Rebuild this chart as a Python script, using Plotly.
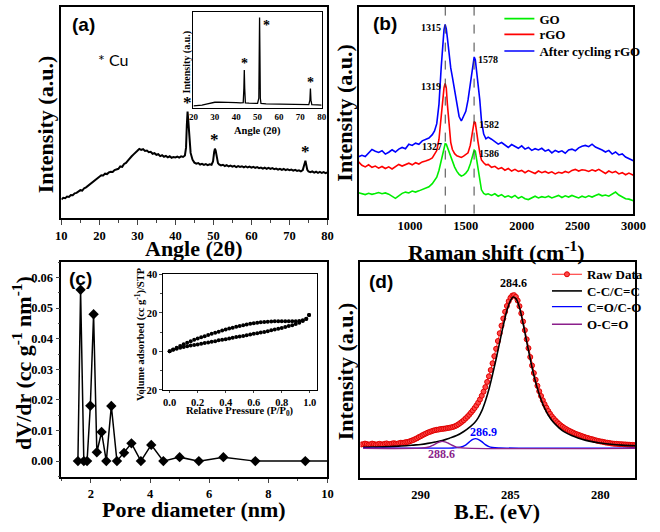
import numpy as np
import plotly.graph_objects as go

W, H = 660, 532
SERIF = "Liberation Serif"
SANS = "Liberation Sans"

# ---------------- (a) XRD ----------------
xrd_angle = [10.0, 10.5, 11.0, 11.5, 12.0, 12.5, 13.0, 13.5, 14.0, 14.5, 15.0, 15.5, 16.0, 16.5, 17.0, 17.5,
             18.0, 18.5, 19.0, 19.5, 20.0, 20.5, 21.0, 21.5, 22.0, 22.5, 23.0, 23.5, 24.0, 24.5, 25.0, 25.5,
             26.0, 26.5, 27.0, 27.5, 28.0, 28.5, 29.0, 29.5, 30.0, 30.5, 31.0, 31.5, 32.0, 32.5, 33.0, 33.5,
             34.0, 34.5, 35.0, 35.5, 36.0, 36.5, 37.0, 37.5, 38.0, 38.5, 39.0, 39.5, 40.0, 40.5, 41.0, 41.5,
             42.0, 42.5, 42.8, 43.0, 43.2, 43.4, 43.6, 43.8, 44.0, 44.5, 45.0, 45.5, 46.0, 46.5, 47.0, 47.5,
             48.0, 48.5, 49.0, 49.5, 49.9, 50.2, 50.4, 50.6, 50.9, 51.2, 51.5, 52.0, 52.5, 53.0, 53.5, 54.0,
             54.5, 55.0, 55.5, 56.0, 56.5, 57.0, 57.5, 58.0, 58.5, 59.0, 59.5, 60.0, 60.5, 61.0, 61.5, 62.0,
             62.5, 63.0, 63.5, 64.0, 64.5, 65.0, 65.5, 66.0, 66.5, 67.0, 67.5, 68.0, 68.5, 69.0, 69.5, 70.0,
             70.5, 71.0, 71.5, 72.0, 72.5, 73.0, 73.5, 73.8, 74.0, 74.2, 74.4, 74.7, 75.0, 75.5, 76.0, 76.5,
             77.0, 77.5, 78.0, 78.5, 79.0, 79.5, 80.0]
xrd_intensity = [9.0, 9.8, 9.6, 10.4, 10.2, 11.1, 11.0, 11.9, 12.1, 12.6, 13.4, 13.2, 14.3, 14.7, 15.4, 16.3,
                 16.9, 17.8, 18.4, 19.3, 19.6, 20.4, 20.3, 21.2, 21.0, 21.8, 22.1, 22.0, 22.9, 23.1, 23.5, 24.6,
                 24.4, 25.8, 26.3, 27.4, 28.2, 29.4, 30.3, 31.4, 32.0, 32.9, 32.4, 32.8, 31.9, 32.1, 31.3, 31.5,
                 30.6, 30.9, 30.1, 30.4, 29.5, 29.9, 29.2, 29.6, 28.9, 29.4, 28.7, 29.1, 28.9, 29.3, 28.8, 29.4,
                 29.1, 29.8, 33.5, 44.0, 50.5, 46.0, 39.0, 34.0, 31.0, 27.8, 26.4, 25.9, 26.2, 25.5, 25.8, 25.3,
                 25.7, 25.2, 25.6, 25.4, 27.0, 31.5, 33.0, 32.0, 28.5, 26.2, 25.6, 25.1, 25.4, 24.8, 25.2, 24.6,
                 25.0, 24.5, 24.9, 24.3, 24.8, 24.4, 24.7, 24.2, 24.6, 24.1, 24.5, 24.0, 24.4, 23.9, 24.3, 23.8,
                 24.1, 23.6, 24.0, 23.5, 23.9, 23.4, 23.8, 23.3, 23.6, 23.1, 23.5, 23.0, 23.4, 22.9, 23.2, 22.8,
                 23.1, 22.6, 23.0, 22.5, 22.8, 22.3, 22.9, 24.5, 26.5, 27.3, 25.5, 23.0, 22.2, 21.9, 22.3, 21.7,
                 22.1, 21.6, 22.0, 21.5, 21.9, 21.4, 21.8]
xrd_cu_angle = [20, 22, 24, 26, 28, 30, 32, 34, 36, 38, 40, 42, 43.3, 43.6, 43.8, 44.0, 44.3, 46, 48, 50,
                50.6, 50.8, 50.95, 51.1, 51.3, 51.6, 54, 58, 62, 66, 70, 74, 74.5, 74.75, 75.0, 75.4, 78, 80]
xrd_cu_intensity = [2.0, 2.3, 2.8, 3.8, 5.0, 5.8, 6.0, 6.0, 5.8, 5.6, 5.4, 5.2, 5.5, 20, 39.5, 20, 5.2, 4.8, 4.6, 4.6,
                    10, 60, 94, 60, 10, 4.6, 4.2, 4.0, 3.8, 3.6, 3.4, 3.3, 8, 20, 8, 3.3, 3.0, 2.8]
cu_peaks_main = [43.2, 50.4, 74.2]
cu_peaks_inset = [43.8, 50.95, 74.75]

# ---------------- (b) Raman ----------------
raman_shift = [540, 570, 600, 630, 660, 690, 720, 750, 780, 810, 840, 870, 900, 930, 960, 990, 1020, 1050, 1080, 1110,
               1140, 1170, 1200, 1220, 1240, 1260, 1280, 1295, 1305, 1315, 1325, 1335, 1350, 1365, 1380, 1400, 1420, 1440, 1460, 1480,
               1500, 1520, 1540, 1555, 1565, 1575, 1585, 1595, 1610, 1625, 1640, 1660, 1680, 1700, 1730, 1760, 1790, 1820, 1850, 1880,
               1910, 1940, 1970, 2000, 2030, 2060, 2090, 2120, 2150, 2180, 2210, 2240, 2270, 2300, 2330, 2360, 2390, 2420, 2450, 2480,
               2510, 2540, 2570, 2600, 2630, 2660, 2690, 2720, 2750, 2780, 2810, 2840, 2870, 2900, 2930, 2960, 3000]
raman_go = [10.1, 9.6, 9.2, 9.8, 9.3, 9.7, 10.2, 9.6, 10.0, 9.4, 8.6, 7.4, 8.6, 9.8, 10.4, 10.0, 10.9, 10.4, 11.0, 11.6,
            12.3, 13.0, 14.5, 15.8, 17.6, 21.0, 26.0, 30.0, 32.5, 33.8, 33.6, 32.0, 29.5, 27.5, 25.0, 22.5, 20.4, 19.0, 18.2, 18.6,
            19.6, 21.0, 24.0, 27.5, 29.5, 30.7, 30.2, 27.0, 22.5, 16.0, 11.5, 9.8, 9.2, 9.6, 8.8, 9.6, 8.4, 9.2, 8.0, 8.6,
            7.8, 8.8, 7.4, 8.2, 7.2, 6.8, 7.8, 8.4, 7.6, 8.2, 7.8, 8.4, 7.6, 8.2, 8.8, 7.8, 8.6, 8.0, 8.8, 8.2,
            7.6, 8.4, 7.8, 8.6, 8.0, 8.8, 9.4, 8.6, 9.0, 8.4, 9.4, 10.4, 9.0, 8.2, 7.2, 7.0, 6.2]
raman_rgo = [25.0, 23.4, 22.6, 23.6, 22.4, 23.0, 22.0, 22.8, 21.8, 22.6, 21.6, 22.8, 23.8, 23.0, 23.6, 24.4, 23.6, 24.6, 24.0, 25.0,
             25.4, 26.0, 27.0, 28.5, 30.5, 36.0, 47.0, 56.0, 61.0, 63.0, 61.0, 53.0, 42.0, 34.5, 31.0, 29.0, 28.0, 27.6, 27.2, 27.8,
             28.6, 29.4, 33.0, 37.5, 41.5, 44.5, 44.0, 39.5, 34.5, 29.5, 26.0, 24.6, 23.6, 23.8, 22.4, 22.9, 21.6, 22.2, 21.0, 21.8,
             20.6, 21.4, 20.4, 20.9, 19.8, 20.8, 20.2, 19.4, 20.6, 19.8, 20.4, 19.6, 20.2, 19.2, 20.0, 19.6, 20.4, 19.8, 20.9, 21.4,
             20.6, 21.2, 21.0, 20.4, 21.2, 20.6, 21.4, 20.2, 19.4, 20.6, 19.8, 20.4, 19.2, 19.8, 18.8, 19.6, 18.6]
raman_cycled = [27.5, 28.2, 27.6, 29.4, 31.0, 30.2, 29.6, 30.4, 28.8, 29.7, 30.9, 29.8, 31.2, 32.0, 31.4, 33.6, 33.0, 34.1, 33.5, 35.2,
                35.9, 36.6, 38.2, 40.0, 43.5, 53.0, 71.0, 83.5, 89.0, 91.5, 89.5, 85.0, 77.0, 70.5, 66.0, 60.0, 53.0, 47.0, 44.8, 47.5,
                49.5, 55.0, 63.0, 70.5, 74.0, 75.8, 74.5, 70.0, 64.0, 55.0, 45.0, 38.5, 36.2, 37.0, 36.0, 35.0, 33.6, 34.4, 33.2, 32.0,
                33.4, 32.4, 31.6, 32.8, 31.2, 32.0, 30.6, 31.4, 30.8, 31.6, 30.2, 30.9, 29.4, 30.6, 29.8, 30.4, 29.2, 30.8, 31.2, 30.4,
                31.8, 32.6, 33.0, 32.4, 33.6, 32.2, 31.6, 30.8, 29.8, 30.6, 28.8, 29.8, 28.4, 28.9, 27.4, 26.6, 25.6]
raman_guides = [1316, 1574]
raman_names = ["GO", "rGO", "After cycling rGO"]
raman_colors = ["#00EE00", "#FF0000", "#0000FF"]
raman_peak_labels = [["1327", "1586"], ["1319", "1582"], ["1315", "1578"]]
raman_peak_pos = [[1320, 1578], [1315, 1578], [1315, 1575]]

# ---------------- (c) pore size distribution ----------------
pore_diameter = [1.56, 1.65, 1.76, 1.87, 1.98, 2.09, 2.20, 2.36, 2.52, 2.69, 2.88, 3.12, 3.37, 3.69, 4.04, 4.45,
                 5.00, 5.65, 6.48, 7.56, 9.25, 10.5]
dv_dr = [0, 0.056, 0, 0, 0.0181, 0.048, 0.0029, 0.0095, 0, 0.018, 0, 0.0027, 0.0058, 0, 0.0053, 0,
         0.0013, 0, 0.0013, 0, 0, 0]
iso_p = [0.0, 0.025, 0.05, 0.075, 0.1, 0.125, 0.15, 0.175, 0.2, 0.225, 0.25, 0.275, 0.3, 0.325, 0.35, 0.375,
         0.4, 0.425, 0.45, 0.475, 0.5, 0.525, 0.55, 0.575, 0.6, 0.625, 0.65, 0.675, 0.7, 0.725, 0.75, 0.775,
         0.8, 0.825, 0.85, 0.875, 0.9, 0.925, 0.95, 0.975, 0.995]
iso_ads = [0.0, 0.8, 1.4, 1.9, 2.3, 2.6, 3.0, 3.3, 3.6, 4.0, 4.3, 4.6, 5.0, 5.3, 5.7, 6.0,
           6.3, 6.7, 7.0, 7.4, 7.7, 8.0, 8.4, 8.7, 9.1, 9.4, 9.8, 10.1, 10.5, 10.9, 11.3, 11.7,
           12.1, 12.6, 13.1, 13.6, 14.2, 14.9, 15.7, 16.8, 18.9]
iso_des = [0.0, 1.0, 1.9, 2.8, 3.7, 4.5, 5.3, 6.0, 6.7, 7.3, 7.9, 8.5, 9.1, 9.7, 10.2, 10.8,
           11.3, 11.8, 12.3, 12.8, 13.2, 13.6, 14.0, 14.3, 14.6, 14.9, 15.1, 15.3, 15.4, 15.5, 15.6, 15.6,
           15.6, 15.6, 15.6, 15.6, 15.6, 15.7, 16.1, 16.9, 18.9]

# ---------------- (d) XPS C1s ----------------
xps_be = [293.3, 293.2, 293.1, 293.0, 292.9, 292.8, 292.7, 292.6, 292.5, 292.4, 292.3, 292.2, 292.1, 292.0,
          291.9, 291.8, 291.7, 291.6, 291.5, 291.4, 291.3, 291.2, 291.1, 291.0, 290.9, 290.8, 290.7, 290.6,
          290.5, 290.4, 290.3, 290.2, 290.1, 290.0, 289.9, 289.8, 289.7, 289.6, 289.5, 289.4, 289.3, 289.2,
          289.1, 289.0, 288.9, 288.8, 288.7, 288.6, 288.5, 288.4, 288.3, 288.2, 288.1, 288.0, 287.9, 287.8,
          287.7, 287.6, 287.5, 287.4, 287.3, 287.2, 287.1, 287.0, 286.9, 286.8, 286.7, 286.6, 286.5, 286.4,
          286.3, 286.2, 286.1, 286.0, 285.9, 285.8, 285.7, 285.6, 285.5, 285.4, 285.3, 285.2, 285.1, 285.0,
          284.9, 284.8, 284.7, 284.6, 284.5, 284.4, 284.3, 284.2, 284.1, 284.0, 283.9, 283.8, 283.7, 283.6,
          283.5, 283.4, 283.3, 283.2, 283.1, 283.0, 282.9, 282.8, 282.7, 282.6, 282.5, 282.4, 282.3, 282.2,
          282.1, 282.0, 281.9, 281.8, 281.7, 281.6, 281.5, 281.4, 281.3, 281.2, 281.1, 281.0, 280.9, 280.8,
          280.7, 280.6, 280.5, 280.4, 280.3, 280.2, 280.1, 280.0, 279.9, 279.8, 279.7, 279.6, 279.5, 279.4,
          279.3, 279.2, 279.1, 279.0, 278.9, 278.8, 278.7, 278.6, 278.5, 278.4, 278.3, 278.2, 278.1, 278.0]
xps_raw = [15.5, 15.6, 15.9, 15.7, 15.4, 15.6, 15.9, 15.7, 15.4, 15.6, 15.8, 15.6, 15.5, 15.8,
           16.0, 15.7, 15.6, 15.9, 16.1, 15.9, 15.8, 16.1, 16.3, 16.2, 16.4, 16.6, 16.7, 17.0,
           17.3, 17.6, 18.0, 18.4, 18.9, 19.3, 19.8, 20.2, 20.6, 21.0, 21.3, 21.6, 21.9, 22.1,
           22.3, 22.4, 22.6, 22.7, 22.8, 22.9, 23.1, 23.2, 23.4, 23.6, 23.9, 24.3, 24.8, 25.4,
           26.0, 26.7, 27.5, 28.3, 29.2, 30.2, 31.2, 32.3, 33.5, 34.8, 36.3, 38.0, 39.9, 42.0,
           44.4, 47.0, 49.9, 53.0, 56.3, 59.7, 63.3, 66.9, 70.4, 73.7, 76.8, 79.5, 81.7, 83.3,
           84.3, 84.5, 83.7, 82.0, 79.4, 76.1, 72.3, 68.3, 64.1, 60.0, 55.9, 52.0, 48.5, 45.4,
           42.6, 40.1, 37.9, 35.9, 34.1, 32.5, 31.0, 29.7, 28.5, 27.5, 26.6, 25.8, 25.0, 24.3,
           23.7, 23.1, 22.6, 22.1, 21.7, 21.3, 20.9, 20.5, 20.2, 19.9, 19.6, 19.3, 19.0, 18.7,
           18.5, 18.2, 18.0, 17.8, 17.5, 17.3, 17.1, 16.9, 16.8, 16.6, 16.4, 16.3, 16.2, 16.0,
           15.9, 15.8, 15.8, 15.7, 15.6, 15.6, 15.5, 15.5, 15.4, 15.4, 15.3, 15.3, 15.2, 15.2]
fit_cc_be = [293.2, 292.6, 292.0, 291.4, 290.8, 290.4, 290.0, 289.6, 289.2, 288.8, 288.4, 288.0, 287.6, 287.2, 287.0,
             286.8, 286.6, 286.4, 286.2, 286.0, 285.8, 285.6, 285.4, 285.2, 285.0, 284.85, 284.7, 284.5, 284.3, 284.1,
             283.9, 283.7, 283.5, 283.3, 283.1, 282.9, 282.6, 282.3, 282.0, 281.6, 281.2, 280.8, 280.4, 280.0, 279.4,
             278.8, 278.0]
fit_cc = [14.2, 14.3, 14.4, 14.6, 14.9, 15.2, 15.5, 16.0, 16.6, 17.3, 18.4, 19.6, 21.5, 24.0, 25.5,
          27.8, 31.0, 35.5, 41.0, 47.8, 55.0, 62.8, 70.5, 77.4, 82.0, 83.6, 82.9, 78.8, 71.5, 63.0,
          55.0, 47.5, 41.3, 36.3, 32.3, 29.1, 25.6, 23.2, 21.3, 19.6, 18.4, 17.4, 16.7, 16.2, 15.6,
          15.2, 14.9]
fit_co_be = [293.2, 289.0, 288.2, 287.8, 287.5, 287.3, 287.1, 286.95, 286.8, 286.6, 286.4, 286.2, 286.0, 285.6, 284.0, 278.0]
fit_co = [13.8, 13.8, 13.9, 14.2, 15.2, 16.6, 17.8, 18.2, 17.9, 16.8, 15.4, 14.5, 14.1, 13.9, 13.8, 13.8]
fit_occ_be = [293.2, 290.0, 289.6, 289.3, 289.05, 288.85, 288.6, 288.4, 288.15, 287.9, 287.5, 278.0]
fit_occ = [13.7, 13.8, 14.2, 15.2, 16.3, 16.9, 16.6, 15.8, 14.8, 14.1, 13.8, 13.7]
xps_names = ["Raw Data", "C-C/C=C", "C=O/C-O", "O-C=O"]
xps_label_text = ["284.6", "286.9", "288.6"]
xps_label_pos = [284.85, 286.95, 288.85]
PURPLE = "#8B1F8B"


def dx(p0, p1):
    return [p0 / W, p1 / W]


def dy(top, bottom):
    return [1 - bottom / H, 1 - top / H]


def px(x):
    return x / W


def py(y):
    return 1 - y / H


fig = go.Figure()

# (a)
fig.add_trace(go.Scatter(x=xrd_angle, y=xrd_intensity, mode="lines", line=dict(color="black", width=2),
                         xaxis="x", yaxis="y", showlegend=False))
fig.add_trace(go.Scatter(x=xrd_cu_angle, y=xrd_cu_intensity, mode="lines", line=dict(color="black", width=1.3),
                         xaxis="x2", yaxis="y2", showlegend=False))
# (b) -- each entry gets its own legend box so the row spacing matches
b_legends = ["legend", "legend2", "legend3"]
for name, col, ys, lg in zip(raman_names, raman_colors, [raman_go, raman_rgo, raman_cycled], b_legends):
    fig.add_trace(go.Scatter(x=raman_shift, y=ys, mode="lines", name=name, line=dict(color=col, width=1.6),
                             xaxis="x3", yaxis="y3", legend=lg))
# (c)
fig.add_trace(go.Scatter(x=pore_diameter, y=dv_dr, mode="lines+markers", line=dict(color="black", width=1.5),
                         marker=dict(symbol="diamond", size=8, color="black"), xaxis="x4", yaxis="y4", showlegend=False))
fig.add_trace(go.Scatter(x=iso_p, y=iso_ads, mode="markers", marker=dict(size=4, color="black"),
                         xaxis="x5", yaxis="y5", showlegend=False))
fig.add_trace(go.Scatter(x=iso_p, y=iso_des, mode="markers", marker=dict(size=4, color="black"),
                         xaxis="x5", yaxis="y5", showlegend=False))
# (d)
d_legends = ["legend4", "legend5", "legend6", "legend7"]
fig.add_trace(go.Scatter(x=xps_be, y=xps_raw, mode="lines+markers", name=xps_names[0],
                         line=dict(color="#FF2020", width=1),
                         marker=dict(symbol="circle", size=5, color="#FF4848", line=dict(color="#E00000", width=1)),
                         xaxis="x6", yaxis="y6", legend=d_legends[0]))
fig.add_trace(go.Scatter(x=fit_cc_be, y=fit_cc, mode="lines", name=xps_names[1], line=dict(color="black", width=1.6, shape="spline"),
                         xaxis="x6", yaxis="y6", legend=d_legends[1]))
fig.add_trace(go.Scatter(x=fit_co_be, y=fit_co, mode="lines", name=xps_names[2], line=dict(color="#0000FF", width=1.4, shape="spline"),
                         xaxis="x6", yaxis="y6", legend=d_legends[2]))
fig.add_trace(go.Scatter(x=fit_occ_be, y=fit_occ, mode="lines", name=xps_names[3], line=dict(color=PURPLE, width=1.4, shape="spline"),
                         xaxis="x6", yaxis="y6", legend=d_legends[3]))

tickfont = dict(family=SERIF, size=12.5, color="black", weight="bold")
small_tick = dict(family=SERIF, size=10, color="black", weight="bold")
base_axis = dict(showline=True, mirror=True, linecolor="black", linewidth=1.5, showgrid=False, zeroline=False,
                 tickfont=tickfont, ticks="")

lay = dict(width=W, height=H, margin=dict(l=0, r=0, t=0, b=0), paper_bgcolor="white", plot_bgcolor="white",
           showlegend=True)
lay["xaxis"] = dict(base_axis, domain=dx(57, 331), range=[10, 80], tickvals=[10, 20, 30, 40, 50, 60, 70, 80],
                    ticks="outside", ticklen=5, tickwidth=1.2, minor=dict(ticks="outside", ticklen=3, dtick=5), anchor="y")
lay["yaxis"] = dict(base_axis, domain=dy(2, 218), range=[0, 100], showticklabels=False, anchor="x")
lay["xaxis2"] = dict(base_axis, linewidth=1, domain=dx(193, 325), range=[20, 80], tickvals=[20, 30, 40, 50, 60, 70, 80],
                     tickfont=dict(small_tick, size=9), anchor="y2", ticklen=0)
lay["yaxis2"] = dict(base_axis, linewidth=1, domain=dy(7, 105), range=[0, 100], showticklabels=False, anchor="x2")
lay["xaxis3"] = dict(base_axis, domain=dx(363, 646), range=[540, 3000], tickvals=[1000, 1500, 2000, 2500, 3000], anchor="y3")
lay["yaxis3"] = dict(base_axis, domain=dy(2, 213), range=[0, 100], showticklabels=False, anchor="x3")
lay["xaxis4"] = dict(base_axis, domain=dx(57, 331), range=[1, 10], tickvals=[2, 4, 6, 8, 10],
                     ticks="outside", ticklen=4, tickwidth=1.2, minor=dict(ticks="outside", ticklen=2, dtick=1), anchor="y4")
lay["yaxis4"] = dict(base_axis, domain=dy(262, 482), range=[-0.0052, 0.0652],
                     tickvals=[0, 0.01, 0.02, 0.03, 0.04, 0.05, 0.06], tickformat=".2f",
                     ticks="outside", ticklen=4, tickwidth=1.2, minor=dict(ticks="outside", ticklen=2, dtick=0.005),
                     anchor="x4")
lay["xaxis5"] = dict(base_axis, linewidth=1.2, domain=dx(162, 320), range=[-0.045, 1.05],
                     tickvals=[0, 0.2, 0.4, 0.6, 0.8, 1.0], tickformat=".1f", tickfont=dict(small_tick, size=10.5),
                     ticks="outside", ticklen=2, anchor="y5")
lay["yaxis5"] = dict(base_axis, linewidth=1.2, domain=dy(275, 393), range=[-20, 40], tickvals=[-20, 0, 20, 40],
                     tickfont=dict(small_tick, size=10.5), ticks="outside", ticklen=3,
                     minor=dict(ticks="outside", ticklen=2, dtick=10), anchor="x5")
lay["xaxis6"] = dict(base_axis, domain=dx(365, 648), range=[293.35, 278.05], tickvals=[290, 285, 280],
                     ticklabelstandoff=4, anchor="y6")
lay["yaxis6"] = dict(base_axis, domain=dy(262, 483), range=[0, 100], showticklabels=False, anchor="x6")

legfont = dict(family=SERIF, size=13, color="black", weight="bold")
b_rows = [14, 30, 47]
d_rows = [275, 292, 308, 326]
for lg, row in zip(b_legends, b_rows):
    lay[lg] = dict(x=px(508), y=py(row), xanchor="left", yanchor="middle", font=legfont,
                   bgcolor="rgba(0,0,0,0)", itemwidth=30)
for lg, row in zip(d_legends, d_rows):
    lay[lg] = dict(x=px(557), y=py(row), xanchor="left", yanchor="middle", font=legfont,
                   bgcolor="rgba(0,0,0,0)", itemwidth=30)

ann = []


def title(text, x, y, size=22, angle=0, family=SERIF, weight="bold", color="black"):
    ann.append(dict(text=text, x=px(x), y=py(y), xref="paper", yref="paper", showarrow=False, textangle=angle,
                    xanchor="center", yanchor="middle",
                    font=dict(family=family, size=size, color=color, weight=weight)))


# axis titles
title("Angle (2θ)", 194, 249)
title("Intensity (a.u.)", 41, 122, angle=-90)
title("Raman shift (cm<sup>-1</sup>)", 505, 251)
title("Intensity (a.u.)", 349, 110, angle=-90)
title("Pore diameter (nm)", 194, 515)
title("dV/dr (cc g<sup>-1</sup> nm<sup>-1</sup>)", 17, 366, angle=-90)
title("B.E. (eV)", 506, 517)
title("Intensity (a.u.)", 349, 374, angle=-90)
# inset titles
title("Intensity (a.u.)", 186, 58, size=10, angle=-90)
title("Angle (2θ)", 259, 129, size=10.5)
title("Volume adsorbed (cc g<sup>-1</sup>)/STP", 138, 336, size=10.5, angle=-90)
title("Relative Pressure (P/P<sub>0</sub>)", 241, 415, size=10.5)
# panel letters
title("(a)", 80, 20, size=19, family=SANS)
title("(b)", 390, 19, size=19, family=SANS)
title("(c)", 77, 279, size=19, family=SANS)
title("(d)", 386, 282, size=19, family=SANS)
title("* Cu", 110, 56, size=16, family="Lato", weight="normal")

# XRD asterisks
for xp in cu_peaks_main:
    ann.append(dict(text="*", x=xp, y=float(np.interp(xp, xrd_angle, xrd_intensity)), xref="x", yref="y",
                    showarrow=False, yanchor="bottom", yshift=-2,
                    font=dict(family=SERIF, size=17, color="black", weight="bold")))
for i, xp in enumerate(cu_peaks_inset):
    yv = float(np.interp(xp, xrd_cu_angle, xrd_cu_intensity))
    ann.append(dict(text="*", x=xp, y=yv, xref="x2", yref="y2", showarrow=False,
                    yanchor="top" if i == 1 else "bottom", xshift=7 if i == 1 else 0, yshift=2 if i == 1 else -3,
                    font=dict(family=SERIF, size=14, color="black", weight="bold")))

# Raman peak labels
for ys, labs, poss in zip([raman_go, raman_rgo, raman_cycled], raman_peak_labels, raman_peak_pos):
    for j, (lab, xp) in enumerate(zip(labs, poss)):
        yv = float(np.interp(xp, raman_shift, ys))
        ann.append(dict(text=lab, x=xp, y=yv, xref="x3", yref="y3", showarrow=False,
                        xanchor="right" if j == 0 else "left", yanchor="middle",
                        xshift=-2 if j == 0 else 2, yshift=-3,
                        font=dict(family=SERIF, size=10, color="black", weight="bold")))

# XPS labels
xps_cols = ["black", "#0000FF", PURPLE]
xps_series = [(fit_cc_be, fit_cc), (fit_co_be, fit_co), (fit_occ_be, fit_occ)]
for k, (lab, xp) in enumerate(zip(xps_label_text, xps_label_pos)):
    sx, sy = xps_series[k]
    yv = float(np.interp(xp, sx[::-1], sy[::-1]))
    if k == 2:
        ann.append(dict(text=lab, x=xp, y=yv, xref="x6", yref="y6", showarrow=False, yanchor="top", yshift=-4,
                        font=dict(family=SERIF, size=12, color=xps_cols[k], weight="bold")))
    else:
        ann.append(dict(text=lab, x=xp, y=yv, xref="x6", yref="y6", showarrow=False, yanchor="bottom",
                        xshift=8 if k == 1 else 0, yshift=-2 if k == 1 else 5,
                        font=dict(family=SERIF, size=12, color=xps_cols[k], weight="bold")))

lay["annotations"] = ann

# dashed guide lines in (b)
lay["shapes"] = [dict(type="line", xref="x3", yref="y3 domain", x0=g, x1=g, y0=0, y1=1,
                      line=dict(color="#444444", width=1, dash="dash")) for g in raman_guides]

fig.update_layout(**lay)
fig.write_html("out.html", config={"displayModeBar": False},
               post_script="document.body.style.margin='0';document.body.style.overflow='hidden';")
